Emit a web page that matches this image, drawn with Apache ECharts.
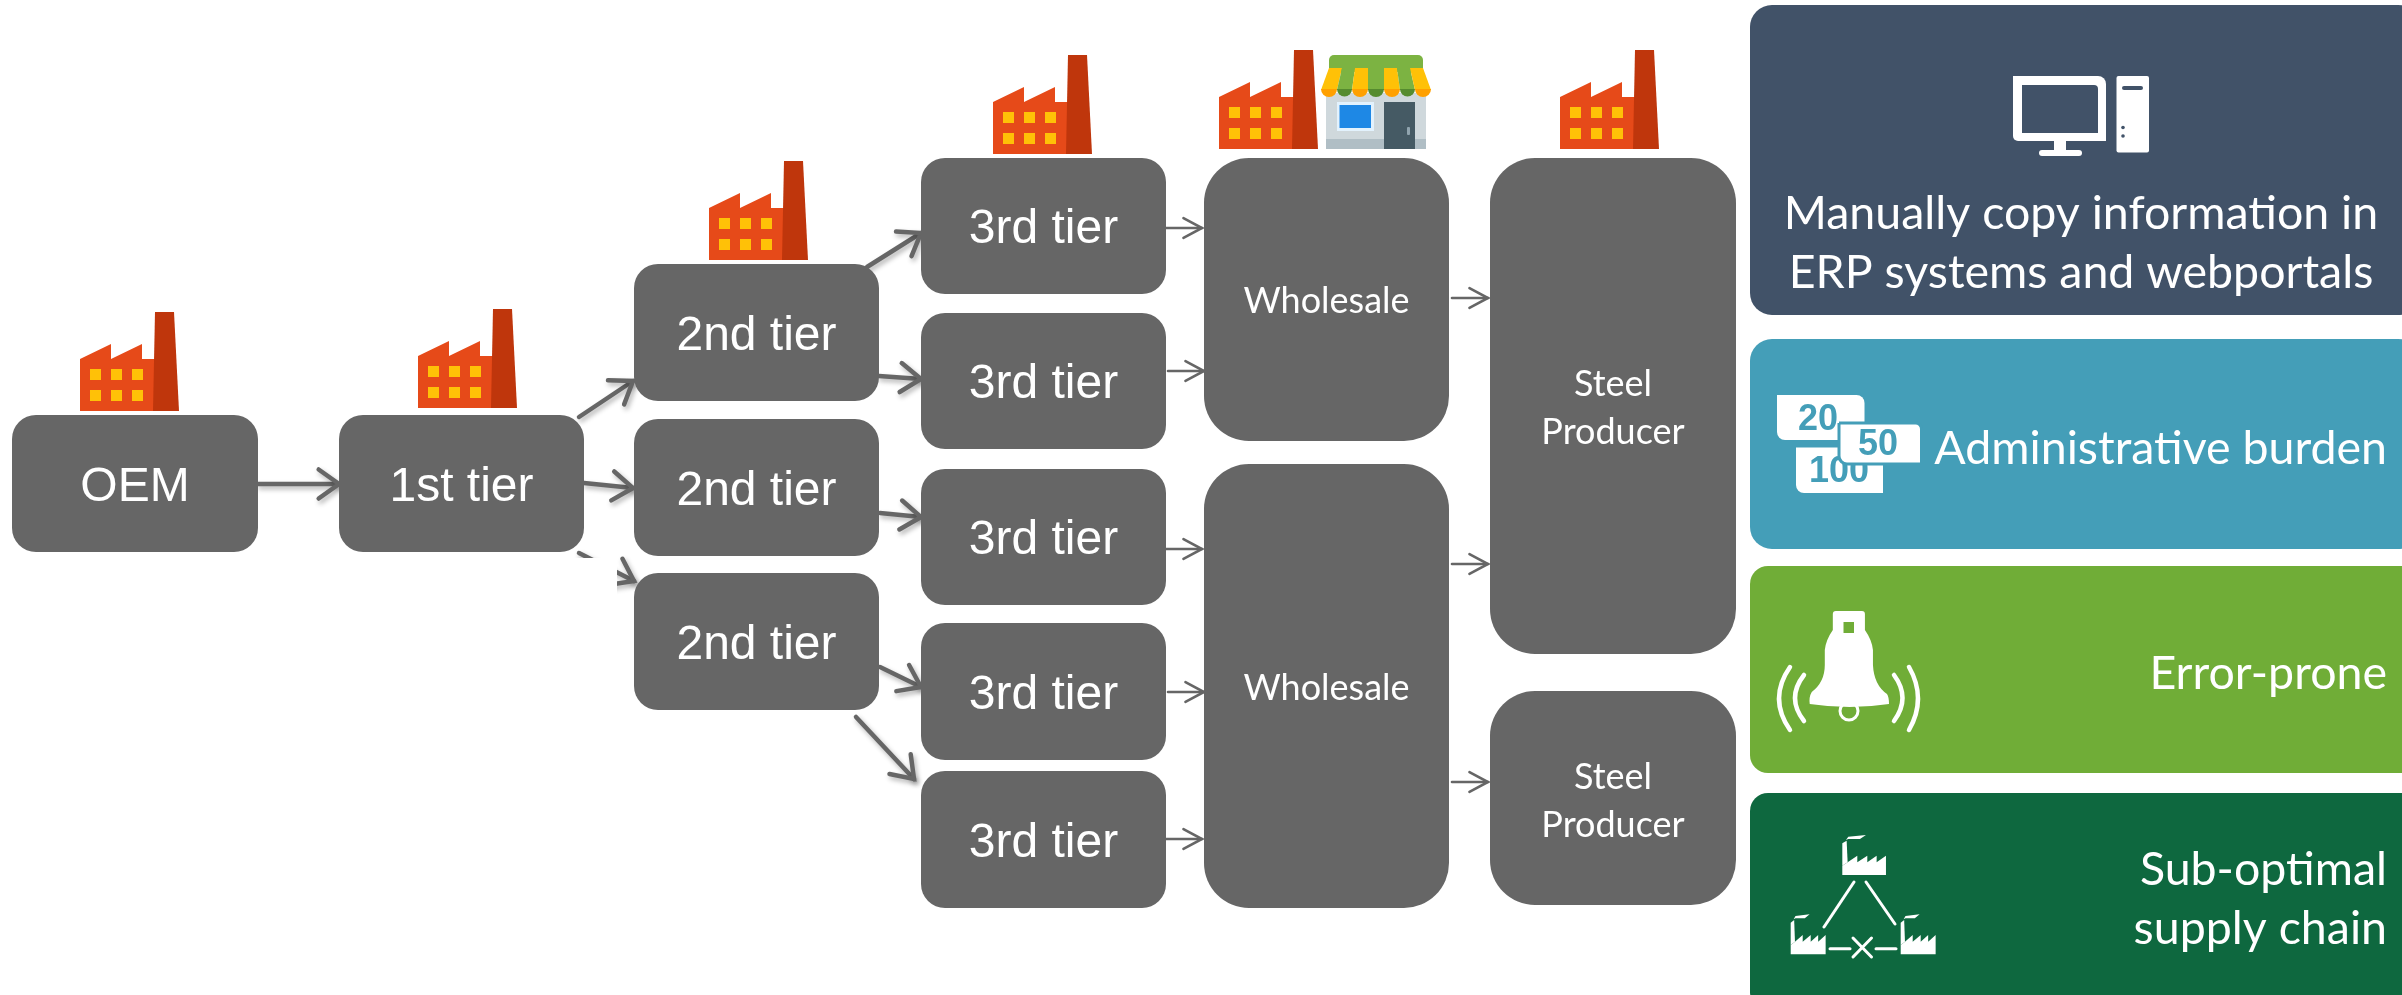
<!DOCTYPE html>
<html>
<head>
<meta charset="utf-8">
<title>Supply chain tiers</title>
<script src="https://cdn.jsdelivr.net/npm/echarts@6/dist/echarts.min.js"></script>
<style>
  html, body { margin: 0; padding: 0; background: #fff; }
  #chart { width: 2402px; height: 995px; }
</style>
</head>
<body>
<div id="chart"></div>
<script>

const boxLabels = ["OEM", "1st tier", "2nd tier", "2nd tier", "2nd tier", "3rd tier", "3rd tier", "3rd tier", "3rd tier", "3rd tier", "Wholesale", "Wholesale", "Steel\nProducer", "Steel\nProducer"];
const boxLeft = [12, 339, 634, 634, 634, 921, 921, 921, 921, 921, 1204, 1204, 1490, 1490];
const boxRight = [258, 584, 879, 879, 879, 1166, 1166, 1166, 1166, 1166, 1449, 1449, 1736, 1736];
const boxTop = [415, 415, 264, 419, 573, 158, 313, 469, 623, 771, 158, 464, 158, 691];
const boxBottom = [552, 552, 401, 556, 710, 294, 449, 605, 760, 908, 441, 908, 654, 905];

const thickFrom = [[258, 484], [579, 417], [584, 483], [579, 553], [867, 267], [879, 376], [880, 513], [880, 667], [856, 717]];
const thickTo = [[339, 484], [633, 381], [633, 488], [634, 581], [921, 233], [921, 379], [921, 517], [921, 687], [914, 779]];
const thinFrom = [[1166, 228], [1168, 371], [1166, 549], [1168, 692], [1166, 839], [1452, 298], [1452, 564], [1452, 782]];
const thinTo = [[1202, 228], [1204, 371], [1202, 549], [1204, 692], [1202, 839], [1488, 298], [1488, 564], [1488, 782]];

// left edge and bottom edge of each factory
const factoryLeft = [80, 418, 709, 993, 1219, 1560];
const factoryBottom = [411, 408, 260, 154, 149, 149];

const panelColors = ["#415268", "#449EB8", "#70AD37", "#0E683F"];
const panelTop = [5, 339, 566, 793];
const panelBottom = [315, 549, 773, 1010];
const panelLines = ["Manually copy information in", "ERP systems and webportals", "Administrative burden", "Error-prone", "Sub-optimal", "supply chain"];
const panelLineY = [214, 273, 449, 674, 870, 929];

const GREY = "#666666";

const chart = echarts.init(document.getElementById("chart"));

let arrowChildren = (api, from, to, width, wing, angle, shadow) => {
  let a = api.coord(from);
  let b = api.coord(to);
  let dir = Math.atan2(b[1] - a[1], b[0] - a[0]);
  let w1 = [b[0] - wing * Math.cos(dir - angle), b[1] - wing * Math.sin(dir - angle)];
  let w2 = [b[0] - wing * Math.cos(dir + angle), b[1] - wing * Math.sin(dir + angle)];
  let style = { fill: null, stroke: GREY, lineWidth: width, lineCap: "round", lineJoin: "miter" };
  if (shadow) {
    style.shadowBlur = 5;
    style.shadowOffsetX = 2;
    style.shadowOffsetY = 3;
    style.shadowColor = "rgba(0,0,0,0.3)";
  }
  return [
    { type: "polyline", shape: { points: [a, b] }, style: style },
    { type: "polyline", shape: { points: [w1, b, w2] }, style: style },
  ];
};

let poly = (points, fill) => ({ type: "polygon", shape: { points: points }, style: { fill: fill } });
let rect = (x0, y0, x1, y1, fill, r) => ({
  type: "rect",
  shape: { x: x0, y: y0, width: x1 - x0, height: y1 - y0, r: r || 0 },
  style: { fill: fill },
});
let line = (x0, y0, x1, y1, color, width) => ({
  type: "line",
  shape: { x1: x0, y1: y0, x2: x1, y2: y1 },
  style: { stroke: color, lineWidth: width, lineCap: "round" },
});
let label = (text, x, y, font, size, color, align, weight, lineHeight) => ({
  type: "text",
  style: {
    text: text,
    x: x,
    y: y,
    fill: color,
    font: (weight || "normal") + " " + size + "px " + font,
    align: align || "center",
    verticalAlign: "middle",
    lineHeight: lineHeight,
  },
});

// Factory outline is 99 x 99 px in the picture
let factory = (left, bottom) => {
  let x = left;
  let y = bottom - 99;
  let p = (list) => list.map((d) => [x + d[0], y + d[1]]);
  let kids = [
    poly(p([[0, 99], [0, 47], [31, 32], [31, 47], [62, 32], [62, 47], [75, 47], [75, 99]]), "#E64A19"),
    poly(p([[73, 99], [75, 0], [94, 0], [99, 99]]), "#BF360C"),
  ];
  [10, 31, 52].forEach((wx) => {
    [57, 78].forEach((wy) => {
      kids.push(rect(x + wx, y + wy, x + wx + 11, y + wy + 11, "#FFC107"));
    });
  });
  return kids;
};

let shop = () => {
  let kids = [
    rect(1326, 93, 1426, 149, "#CFD8DC"),
    rect(1326, 139, 1426, 149, "#B0BEC5"),
    rect(1337, 102, 1374, 131, "#E3F2FD"),
    rect(1339.5, 105, 1371, 128, "#1E88E5"),
    rect(1384, 102, 1415, 149, "#455A64"),
    rect(1407, 127, 1410, 135, "#90A4AE", 1),
    rect(1329, 55, 1423, 72, "#7CB342", [5, 5, 0, 0]),
  ];
  let topX = [1329, 1342, 1355, 1368, 1384, 1397, 1410, 1423];
  let lowX = [1321, 1337, 1352, 1368, 1384, 1400, 1415, 1431];
  for (let i = 0; i < 7; i++) {
    kids.push(poly([[topX[i], 68], [topX[i + 1], 68], [lowX[i + 1], 90], [lowX[i], 90]], i % 2 == 0 ? "#FFC107" : "#7CB342"));
    kids.push({
      type: "sector",
      shape: { cx: (lowX[i] + lowX[i + 1]) / 2, cy: 89, r: (lowX[i + 1] - lowX[i]) / 2, r0: 0, startAngle: 0, endAngle: Math.PI, clockwise: true },
      style: { fill: i % 2 == 0 ? "#FFA000" : "#558B2F" },
    });
  }
  return kids;
};

let computer = () => [
  rect(2013, 76, 2106, 141, "#fff", [0, 8, 0, 5]),
  rect(2022, 85, 2098, 133, panelColors[0], [0, 4, 0, 0]),
  rect(2054, 141, 2066, 151, "#fff"),
  rect(2039, 150, 2082, 156, "#fff", 3),
  rect(2116.5, 76, 2149, 152.5, "#fff", 2),
  rect(2122, 86, 2143, 90, panelColors[0], 2),
  { type: "circle", shape: { cx: 2123, cy: 127.5, r: 1.8 }, style: { fill: panelColors[0] } },
  { type: "circle", shape: { cx: 2123, cy: 136, r: 1.8 }, style: { fill: panelColors[0] } },
];

let numberCards = () => {
  let teal = panelColors[1];
  let font = "'Liberation Sans'";
  let card50 = rect(1839, 423, 1921.5, 464, "#fff", [0, 6, 0, 8]);
  card50.style.stroke = teal;
  card50.style.lineWidth = 3;
  return [
    rect(1777, 395, 1864.5, 440, "#fff", [0, 8, 0, 8]),
    label("20", 1818, 420, font, 36, teal, "center", "bold"),
    rect(1796, 447.5, 1883, 493, "#fff", [0, 0, 0, 8]),
    label("100", 1839, 472, font, 36, teal, "center", "bold"),
    card50,
    label("50", 1878, 445, font, 36, teal, "center", "bold"),
  ];
};

let bell = () => {
  let green = panelColors[2];
  let arc = (x0, y0, y1, cx) => ({
    type: "bezierCurve",
    shape: { x1: x0, y1: y0, x2: x0, y2: y1, cpx1: cx, cpy1: (y0 + y1) / 2 },
    style: { fill: null, stroke: "#fff", lineWidth: 4.5, lineCap: "round" },
  });
  return [
    { type: "circle", shape: { cx: 1849, cy: 711, r: 9 }, style: { fill: green, stroke: "#fff", lineWidth: 3 } },
    {
      type: "path",
      shape: {
        pathData: "M1836 611L1862 611Q1865 611 1865 614L1865 630Q1872 640 1873 650L1873 665Q1874 685 1887 694Q1889 697 1889 704Q1850 710 1810 704Q1809 697 1812 692Q1825 682 1825 665L1825 650Q1826 640 1833 630L1833 614Q1833 611 1836 611Z",
        x: 1809.5,
        y: 611,
        width: 79.5,
        height: 96,
        layout: "cover",
      },
      style: { fill: "#fff" },
    },
    rect(1843.5, 622, 1854, 633, green),
    arc(1790, 667, 730, 1768),
    arc(1804, 675, 721, 1786),
    arc(1909, 667, 730, 1927),
    arc(1894, 675, 721, 1911),
  ];
};

// one small white factory; list units are zoomed 3x from the picture
let miniFactory = (left, bottom, widthScale) => {
  let p = (list) => list.map((d) => [left + (d[0] * widthScale) / 3, bottom + d[1] / 3]);
  return [
    poly(p([[0, 0], [0, -28], [16, -38], [45, -58], [45, -38], [75, -58], [75, -38], [103, -58], [103, -38], [131, -58], [131, 0]]), "#fff"),
    poly(p([[0, -28], [0, -95], [13, -103], [16, -38]]), "#fff"),
    poly(p([[11, -105], [18, -115], [71, -120], [53, -108], [18, -108]]), "#fff"),
  ];
};

let chainIcon = () => [
  ...miniFactory(1842.3, 875, 1),
  ...miniFactory(1790.7, 954.3, 0.8),
  ...miniFactory(1900.7, 954.3, 0.8),
  line(1854, 882, 1824, 927, "#fff", 3),
  line(1866, 882, 1895, 924, "#fff", 3),
  line(1830, 948.7, 1850, 948.7, "#fff", 3),
  line(1876, 948.7, 1896, 948.7, "#fff", 3),
  line(1853, 938, 1871.5, 957, "#fff", 3),
  line(1871.5, 938, 1853, 957, "#fff", 3),
];

let boxItem = (params, api) => {
  let i = params.dataIndex;
  let a = api.coord([boxLeft[i], boxTop[i]]);
  let b = api.coord([boxRight[i], boxBottom[i]]);
  let tall = b[1] - a[1] > 200;
  let tierBox = i < 10;
  // Arial sits a little high here, the picture's labels are a few px lower
  let labelY = (a[1] + b[1]) / 2 + 4;
  // The wholesale and steel labels do not sit in the middle of their tall boxes
  if (i == 10) labelY = 301;
  if (i == 11) labelY = 688;
  if (i == 12) labelY = 408;
  if (i == 13) labelY = 801;
  return {
    type: "group",
    children: [
      {
        type: "rect",
        shape: { x: a[0], y: a[1], width: b[0] - a[0], height: b[1] - a[1], r: tall ? 45 : 24 },
        style: { fill: GREY },
      },
      label(
        boxLabels[i],
        (a[0] + b[0]) / 2,
        labelY,
        tierBox ? "'Liberation Sans'" : "Lato",
        tierBox ? 48 : 36,
        "#fff",
        "center",
        "normal",
        tierBox ? 56 : 48
      ),
    ],
  };
};

let option = {
  animation: false,
  backgroundColor: "#fff",
  grid: { left: 0, right: 0, top: 0, bottom: 0 },
  xAxis: { type: "value", min: 0, max: 2402, show: false },
  yAxis: { type: "value", min: 0, max: 995, inverse: true, show: false },
  series: [
    {
      type: "custom",
      z: 1,
      silent: true,
      clip: false,
      data: thickFrom.map((d, i) => i),
      renderItem: (params, api) => ({
        type: "group",
        children: arrowChildren(api, thickFrom[params.dataIndex], thickTo[params.dataIndex], 4.5, 25, 0.62, true),
      }),
    },
    {
      type: "custom",
      z: 1,
      silent: true,
      clip: false,
      data: thinFrom.map((d, i) => i),
      renderItem: (params, api) => ({
        type: "group",
        children: arrowChildren(api, thinFrom[params.dataIndex], thinTo[params.dataIndex], 2.6, 21, 0.49, false),
      }),
    },
    {
      // The picture has a white patch over the third arrow from 1st tier
      type: "custom",
      z: 2,
      silent: true,
      data: [0],
      renderItem: () => rect(570, 558, 617, 610, "#fff"),
    },
    {
      type: "custom",
      z: 3,
      silent: true,
      data: boxLabels,
      renderItem: boxItem,
    },
    {
      type: "custom",
      z: 3,
      silent: true,
      clip: false,
      data: panelColors,
      renderItem: (params) => {
        let i = params.dataIndex;
        return rect(1750, panelTop[i], 2420, panelBottom[i], panelColors[i], i < 2 ? 22 : 18);
      },
    },
    {
      type: "custom",
      z: 4,
      silent: true,
      data: factoryLeft,
      renderItem: (params) => ({
        type: "group",
        children: factory(factoryLeft[params.dataIndex], factoryBottom[params.dataIndex]),
      }),
    },
    {
      type: "custom",
      z: 4,
      silent: true,
      data: [0],
      renderItem: () => ({
        type: "group",
        children: [...shop(), ...computer(), ...numberCards(), ...bell(), ...chainIcon()],
      }),
    },
    {
      type: "custom",
      z: 5,
      silent: true,
      data: panelLines,
      renderItem: (params) => {
        let i = params.dataIndex;
        return i < 2
          ? label(panelLines[i], 2081, panelLineY[i], "Lato", 46.5, "#fff")
          : label(panelLines[i], 2387, panelLineY[i], "Lato", 46.5, "#fff", "right");
      },
    },
  ],
};

chart.setOption(option);
</script>
</body>
</html>
